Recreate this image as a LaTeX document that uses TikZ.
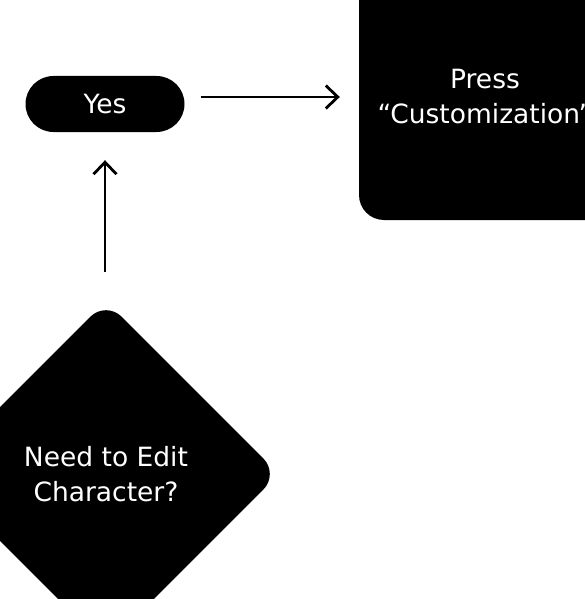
\documentclass[tikz,border=0pt]{standalone}
\usepackage{fontspec}
\setmainfont{DejaVu Sans}
\usetikzlibrary{shapes.geometric,arrows.meta}
\begin{document}
\begin{tikzpicture}[x=1pt,y=1pt,
  blk/.style={fill=black,text=white,font=\fontsize{26.5}{35}\selectfont,align=center,inner sep=0pt},
  arr/.style={line width=2.8pt,-{Straight Barb[length=12pt,width=23pt,line width=2.8pt]}}]
\useasboundingbox (0,0) rectangle (585,-599);
\clip (0,0) rectangle (585,-599);
\node[blk,rounded corners=28pt,minimum width=159pt,minimum height=56pt] (yes) at (105,-104) {Yes};
\node[blk,rounded corners=25pt,minimum width=252pt,minimum height=246pt] (box) at (485,-97) {Press\\“Customization”};
\node[blk,diamond,aspect=1,rounded corners=22pt,minimum width=346pt,minimum height=346pt] (dia) at (106,-474) {Need to Edit\\Character?};
\draw[arr,shorten <=16pt,shorten >=19pt] (yes.east |- box.west) -- (box.west);
\draw[arr,shorten <=29pt,shorten >=28pt] (dia.north -| yes.south) -- (yes.south);
\end{tikzpicture}
\end{document}
